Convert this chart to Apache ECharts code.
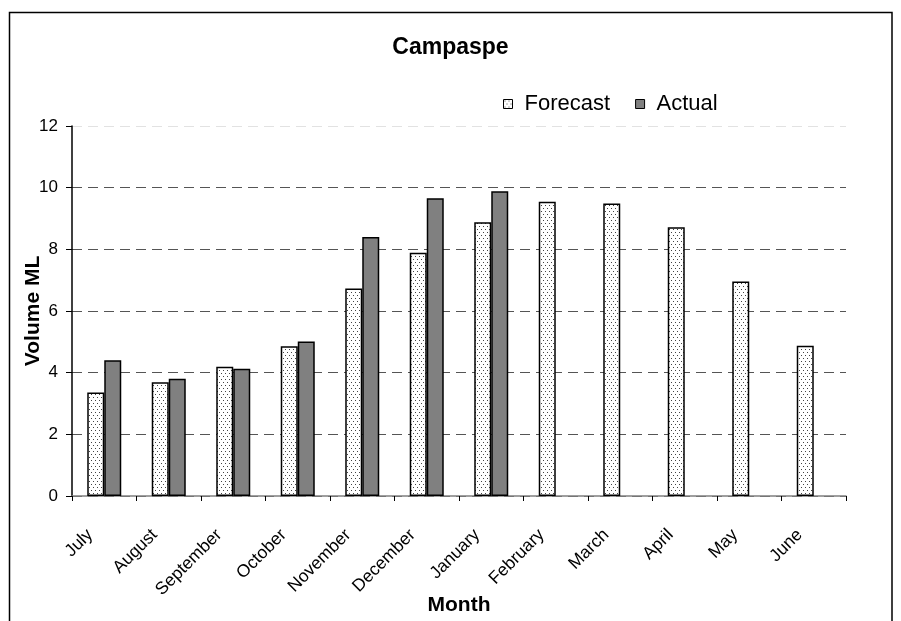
<!DOCTYPE html>
<html>
<head>
<meta charset="utf-8">
<script src="https://cdn.jsdelivr.net/npm/echarts@6/dist/echarts.min.js"></script>
<style>
html,body{margin:0;padding:0;background:#fff;}
#c{width:901px;height:621px;}
</style>
</head>
<body>
<div id="c"></div>
<script>
const months = ['July','August','September','October','November','December','January','February','March','April','May','June'];
const forecast = [3.36, 3.69, 4.19, 4.86, 6.73, 7.89, 8.88, 9.54, 9.49, 8.72, 6.96, 4.87];
const actual = [4.40, 3.80, 4.13, 5.01, 8.40, 9.66, 9.88, null, null, null, null, null];
const yTicks = [0, 2, 4, 6, 8, 10, 12];

function dotPattern() {
  const c = document.createElement('canvas');
  c.width = 4; c.height = 6;
  const g = c.getContext('2d');
  g.fillStyle = '#ffffff';
  g.fillRect(0, 0, 4, 6);
  g.fillStyle = '#444444';
  g.fillRect(1, 1, 1, 1);
  g.fillRect(3, 4, 1, 1);
  return c;
}
const pat = { image: dotPattern(), repeat: 'repeat' };
const FONT = 'Liberation Sans, Arial, sans-serif';

const chart = echarts.init(document.getElementById('c'), null, { renderer: 'canvas' });
chart.setOption({
  backgroundColor: '#ffffff',
  animation: false,
  textStyle: { fontFamily: FONT, color: '#000' },
  graphic: [{
    type: 'rect',
    shape: { x: 9.5, y: 12.5, width: 882.5, height: 640 },
    style: { fill: 'none', stroke: '#000', lineWidth: 1.5 },
    silent: true
  }],
  title: {
    text: 'Campaspe',
    left: 'center',
    top: 31,
    textStyle: { fontFamily: FONT, fontSize: 23, fontWeight: 'bold', color: '#000' }
  },
  legend: {
    left: 498,
    top: 88,
    icon: 'rect',
    itemWidth: 9,
    itemHeight: 9,
    itemGap: 25,
    textStyle: { fontFamily: FONT, fontSize: 22, color: '#000', padding: [0, 0, 0, 7] },
    data: [
      { name: 'Forecast', itemStyle: { color: pat, borderColor: '#000', borderWidth: 1 } },
      { name: 'Actual', itemStyle: { color: '#808080', borderColor: '#000', borderWidth: 1 } }
    ]
  },
  grid: { left: 72, right: 55, top: 126, bottom: 116, containLabel: false },
  xAxis: {
    type: 'category',
    data: months,
    name: 'Month',
    nameLocation: 'middle',
    nameGap: 99,
    nameMoveOverlap: false,
    nameTextStyle: { fontFamily: FONT, fontSize: 21, fontWeight: 'bold', color: '#000' },
    axisLine: { lineStyle: { color: '#808080', width: 1.5 } },
    axisTick: { show: true, alignWithLabel: false, length: 5, lineStyle: { color: '#000' } },
    axisLabel: { rotate: 45, fontFamily: FONT, fontSize: 17.5, color: '#000', margin: 22,
      padding: [0, 20, 0, 0], interval: 0 },
    splitLine: { show: false }
  },
  yAxis: {
    type: 'value',
    min: 0,
    max: 12,
    interval: 2,
    name: 'Volume ML',
    nameLocation: 'middle',
    nameGap: 28,
    nameMoveOverlap: false,
    nameTextStyle: { fontFamily: FONT, fontSize: 21, fontWeight: 'bold', color: '#000' },
    axisLine: { show: true, lineStyle: { color: '#000', width: 1.5 } },
    axisTick: { show: true, length: 6, lineStyle: { color: '#000' } },
    axisLabel: { fontFamily: FONT, fontSize: 17, color: '#000', margin: 14,
      formatter: v => (yTicks.indexOf(v) >= 0 ? String(v) : '') },
    splitLine: { show: true, lineStyle: { type: [10, 6], width: 1,
      color: ['#555', '#555', '#555', '#555', '#555', '#555', '#e2e2e2'] } }
  },
  series: [
    {
      name: 'Forecast', type: 'bar', data: forecast,
      barWidth: 17, barGap: '0%',
      itemStyle: { color: pat, borderColor: '#000', borderWidth: 1.5 }
    },
    {
      name: 'Actual', type: 'bar', data: actual,
      barWidth: 17, barGap: '0%',
      itemStyle: { color: '#808080', borderColor: '#000', borderWidth: 1.5 }
    }
  ]
});
</script>
</body>
</html>
